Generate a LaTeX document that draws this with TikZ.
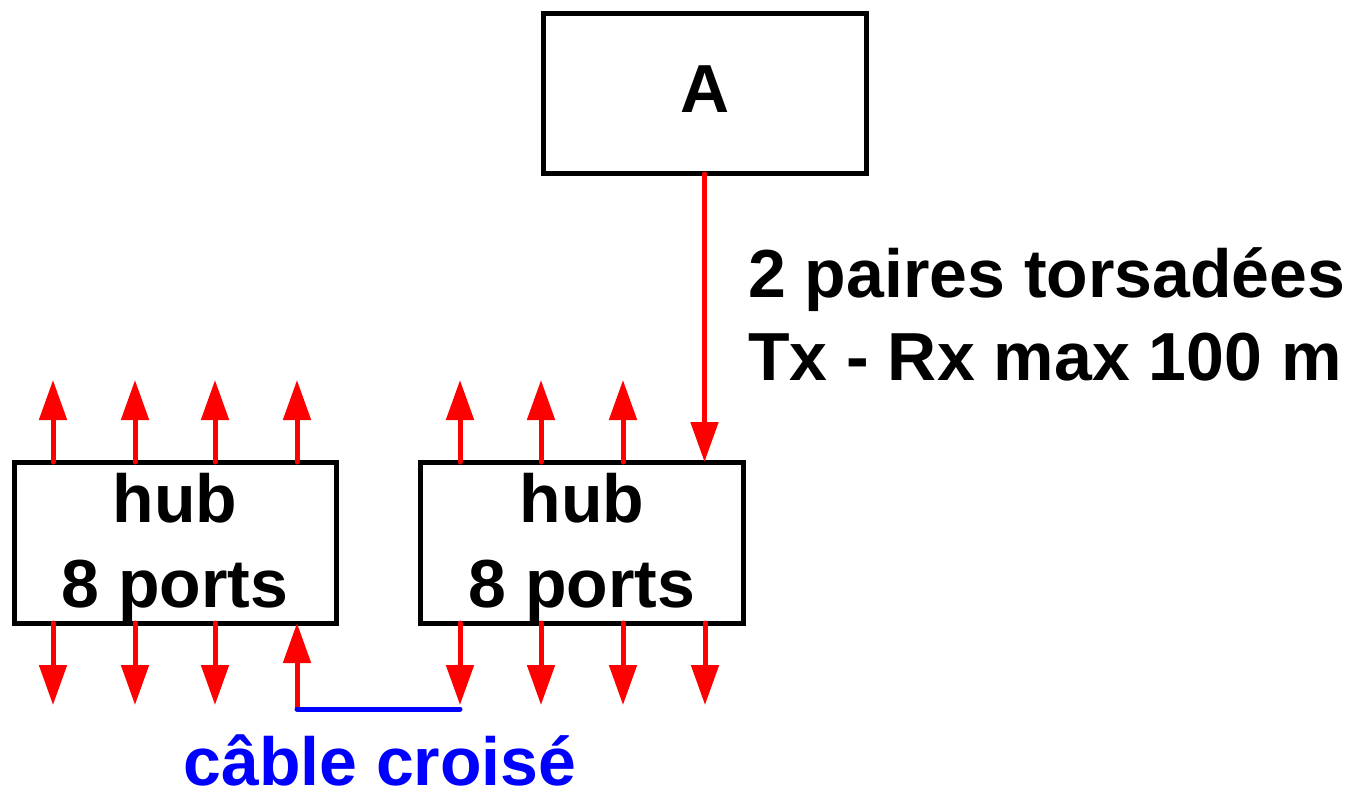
\documentclass[tikz,border=0pt]{standalone}
\usepackage{fontspec}
\setmainfont{Liberation Sans}
\usetikzlibrary{arrows.meta,calc}
\begin{document}
\begin{tikzpicture}[x=1pt,y=-1pt,
  box/.style={draw=black,line width=5pt,inner sep=0pt,outer sep=0pt,anchor=north west},
  lbl/.style={inner sep=0pt,font=\fontsize{68}{80}\selectfont\bfseries},
  wire/.style={draw=red,line width=5pt,line cap=round,-{Triangle[width=27pt,length=40pt]}},
  cross/.style={draw=blue,line width=5pt,line cap=round}]
\useasboundingbox (0,0) rectangle (1358,789);

% station and the two hubs
\node[box,minimum width=323pt,minimum height=160pt] (A) at (543,14) {};
\node[box,minimum width=322pt,minimum height=161pt] (h1) at (14,462) {};
\node[box,minimum width=323pt,minimum height=161pt] (h2) at (420,462) {};

\node[lbl,anchor=base] (At) at (705,113) {A};
\node[lbl,anchor=base] (h1a) at (175,522) {hub};
\node[lbl,anchor=base] (h1b) at (175,607) {8 ports};
\node[lbl,anchor=base] (h2a) at (582,522) {hub};
\node[lbl,anchor=base] (h2b) at (582,607) {8 ports};

% link from the station to the second hub
\draw[wire] (A.south) -- (A.south |- h2.north);
\node[lbl,anchor=base west] (l1) at (748,297) {2 paires torsadées};
\node[lbl,anchor=base west] (l2) at (748,380) {Tx - Rx max 100 m};

% port positions along the hubs
\foreach \i/\dx in {1/39,2/121,3/201,4/283}{
  \coordinate (h1t\i) at ($(h1.north west)+(\dx,0)$);
  \coordinate (h1b\i) at ($(h1.south west)+(\dx,0)$);
  \coordinate (h1u\i) at ($(h1t\i)+(0,-82)$);
  \coordinate (h1d\i) at ($(h1b\i)+(0,82)$);
}
\foreach \i/\dx in {1/40,2/121,3/203,4/285}{
  \coordinate (h2t\i) at ($(h2.north west)+(\dx,0)$);
  \coordinate (h2b\i) at ($(h2.south west)+(\dx,0)$);
  \coordinate (h2u\i) at ($(h2t\i)+(0,-82)$);
  \coordinate (h2d\i) at ($(h2b\i)+(0,82)$);
}

% free ports
\foreach \i in {1,2,3,4}{\draw[wire] (h1t\i) -- (h1u\i);}
\foreach \i in {1,2,3}{\draw[wire] (h1b\i) -- (h1d\i);}
\foreach \i in {1,2,3}{\draw[wire] (h2t\i) -- (h2u\i);}
\foreach \i in {2,3,4}{\draw[wire] (h2b\i) -- (h2d\i);}

% crossover cable between the hubs
\coordinate (c1) at ($(h1b4)+(0,86)$);
\coordinate (c2) at ($(h2b1)+(0,86)$);
\draw[wire] (c1) -- (h1b4);
\draw[wire] (h2b1) -- (h2d1);
\draw[cross] (c1) -- (c2);
\node[lbl,anchor=base,text=blue] (cc) at (380,785) {câble croisé};
\end{tikzpicture}
\end{document}
